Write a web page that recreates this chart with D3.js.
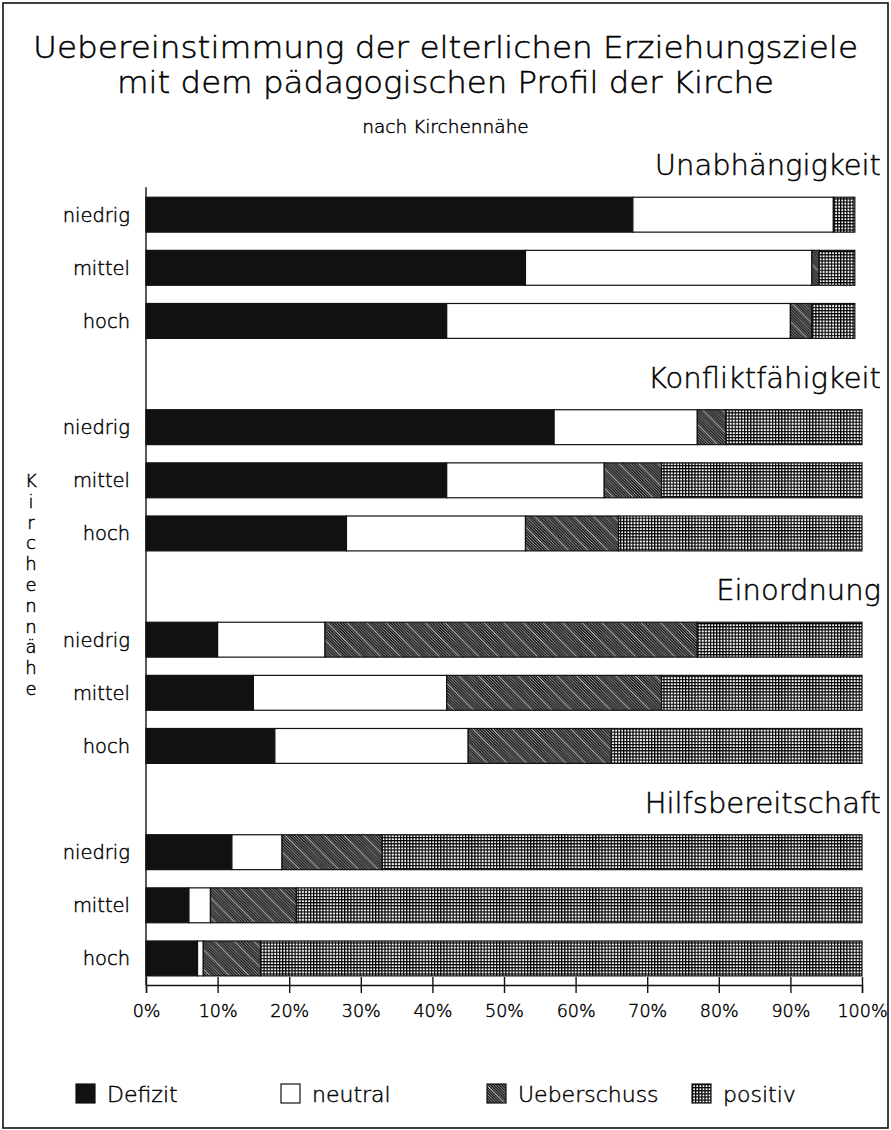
<!DOCTYPE html>
<html lang="de">
	<head>
		<meta charset="utf-8">
		<title>Uebereinstimmung der elterlichen Erziehungsziele</title>
		<script type="text/javascript" src="https://cdn.jsdelivr.net/npm/d3@7"></script>
		<style type="text/css">
			body { margin: 0; background: #fff; }
			text { font-family: "DejaVu Sans", sans-serif; font-weight: 200; fill: #000; stroke: #000; stroke-width: 0.45; }
		</style>
	</head>
	<body>
		<script type="text/javascript">

			//Data (percent per bar, order: niedrig, mittel, hoch per group)
			const groups = ["Unabhängigkeit", "Konfliktfähigkeit", "Einordnung", "Hilfsbereitschaft"];
			const levels = ["niedrig", "mittel", "hoch"];
			const categories = ["Defizit", "neutral", "Ueberschuss", "positiv"];
			const defizit     = [68, 53, 42,  57, 42, 28,  10, 15, 18,  12,  6, 7.2];
			const neutral     = [28, 40, 48,  20, 22, 25,  15, 27, 27,   7,  3, 0.8];
			const ueberschuss = [ 0,  1,  3,   4,  8, 13,  52, 30, 20,  14, 12,   8];
			const positiv     = [ 3,  5,  6,  19, 28, 34,  23, 28, 35,  67, 79,  84];
			const xTicks = [0, 10, 20, 30, 40, 50, 60, 70, 80, 90, 100];

			//Width and height
			let w = 891;
			let h = 1130;
			let plotLeft = 146, plotRight = 862, plotTop = 135, plotBottom = 985;

			//Build a table from the arrays
			let rows = [];
			groups.forEach((g, gi) => {
				levels.forEach((l, li) => {
					let i = gi * 3 + li;
					rows.push({
						key: g + "|" + l, group: g, level: l,
						Defizit: defizit[i], neutral: neutral[i],
						Ueberschuss: ueberschuss[i], positiv: positiv[i]
					});
				});
			});

			//One band row for each group title plus its three bars
			let rowKeys = [];
			groups.forEach(g => {
				rowKeys.push(g + "|title");
				levels.forEach(l => rowKeys.push(g + "|" + l));
			});

			let x = d3.scaleLinear().domain([0, 100]).range([plotLeft, plotRight]);
			let y = d3.scaleBand().domain(rowKeys).range([plotTop, plotBottom])
						.paddingInner(0.343).paddingOuter(0.1715);

			let stack = d3.stack().keys(categories);
			let series = stack(rows);

			//Create SVG element
			let svg = d3.select("body")
						.append("svg")
						  .attr("width", w)
						  .attr("height", h);

			//Fill patterns
			let defs = svg.append("defs");

			//Ueberschuss: dense "\" hatch with an occasional white streak
			let d = 2.8, tile = d * 7;
			let diag = c => `M-1,${-1 + c} L${tile + 1},${tile + 1 + c}`;
			let blackLines = d3.range(-tile, tile + d / 2, d).map(diag).join(" ");
			let whiteLines = [-tile, 0, tile].map(c => diag(c + d / 2)).join(" ");
			let hatch = defs.append("pattern")
				.attr("id", "hatch")
				.attr("patternUnits", "userSpaceOnUse")
				.attr("width", tile).attr("height", tile);
			hatch.append("rect").attr("width", tile).attr("height", tile).attr("fill", "#fff");
			hatch.append("path")
				.attr("d", blackLines)
				.attr("stroke", "#000").attr("stroke-width", 1.45);
			hatch.append("path")
				.attr("d", whiteLines)
				.attr("stroke", "#fff").attr("stroke-width", 0.9);

			//positiv: fine square grid
			let grid = defs.append("pattern")
				.attr("id", "grid")
				.attr("patternUnits", "userSpaceOnUse")
				.attr("width", 3.1).attr("height", 3.1);
			grid.append("rect").attr("width", 3.1).attr("height", 3.1).attr("fill", "#fff");
			grid.append("path")
				.attr("d", "M0,0.6 L3.1,0.6 M0.6,0 L0.6,3.1")
				.attr("stroke", "#000").attr("stroke-width", 1.2);

			let fills = {
				Defizit: "#111",
				neutral: "#fff",
				Ueberschuss: "url(#hatch)",
				positiv: "url(#grid)"
			};

			//Outer frame
			svg.append("rect")
				.attr("x", 3).attr("y", 3)
				.attr("width", w - 6).attr("height", h - 5)
				.attr("fill", "none")
				.attr("stroke", "#111")
				.attr("stroke-width", 1.6);

			//Titles
			svg.append("text")
				.attr("x", w / 2).attr("y", 58)
				.attr("text-anchor", "middle")
				.attr("font-size", 30)
				.attr("textLength", 825).attr("lengthAdjust", "spacingAndGlyphs")
				.text("Uebereinstimmung der elterlichen Erziehungsziele");
			svg.append("text")
				.attr("x", w / 2).attr("y", 93)
				.attr("text-anchor", "middle")
				.attr("font-size", 30)
				.attr("textLength", 657).attr("lengthAdjust", "spacingAndGlyphs")
				.text("mit dem pädagogischen Profil der Kirche");
			svg.append("text")
				.attr("x", w / 2).attr("y", 133)
				.attr("text-anchor", "middle")
				.attr("font-size", 18.5)
				.text("nach Kirchennähe");

			//Group titles, right aligned
			svg.selectAll(".grouptitle")
				.data(groups)
				.enter()
			  .append("text")
				.attr("class", "grouptitle")
				.attr("x", plotRight + 19)
				.attr("y", d => y(d + "|title") + y.bandwidth() - 4)
				.attr("text-anchor", "end")
				.attr("font-size", 29)
				.text(d => d);

			//Bars
			svg.selectAll(".series")
				.data(series)
				.enter()
			  .append("g")
				.attr("class", "series")
				.attr("fill", d => fills[d.key])
			  .selectAll("rect")
				.data(d => d.filter(s => s[1] - s[0] > 0))
				.enter()
			  .append("rect")
				.attr("x", d => x(d[0]))
				.attr("y", d => y(d.data.key))
				.attr("width", d => x(d[1]) - x(d[0]))
				.attr("height", y.bandwidth())
				.attr("stroke", "#111")
				.attr("stroke-width", 1.2);

			//Level labels
			svg.selectAll(".level")
				.data(rows)
				.enter()
			  .append("text")
				.attr("class", "level")
				.attr("x", plotLeft - 16)
				.attr("y", d => y(d.key) + y.bandwidth() / 2 + 7)
				.attr("text-anchor", "end")
				.attr("font-size", 19.5)
				.text(d => d.level);

			//Vertical axis line
			svg.append("line")
				.attr("x1", plotLeft).attr("x2", plotLeft)
				.attr("y1", y(groups[0] + "|" + levels[0]) - 10)
				.attr("y2", plotBottom)
				.attr("stroke", "#111")
				.attr("stroke-width", 1.4);

			//Horizontal axis
			let xAxis = d3.axisBottom(x)
				.tickValues(xTicks)
				.tickSize(8)
				.tickFormat(d => d + "%");
			let ax = svg.append("g")
				.attr("transform", `translate(0,${plotBottom})`)
				.call(xAxis);
			ax.attr("font-family", null).attr("font-size", null);
			ax.select(".domain").attr("stroke", "#111").attr("stroke-width", 1.4);
			ax.selectAll(".tick line")
				.attr("y1", -8)
				.attr("stroke", "#111").attr("stroke-width", 1.4);
			ax.selectAll(".tick text")
				.attr("y", 32).attr("dy", null)
				.attr("font-size", 17.5)
				.attr("fill", "#000");

			//Axis title, one letter per line
			let yTitle = "Kirchennähe".split("");
			svg.selectAll(".ytitle")
				.data(yTitle)
				.enter()
			  .append("text")
				.attr("class", "ytitle")
				.attr("x", 31)
				.attr("y", (d, i) => 487 + i * 20.8)
				.attr("text-anchor", "middle")
				.attr("font-size", 18)
				.text(d => d);

			//Legend
			let legendX = [76, 281, 487, 692];
			let legend = svg.selectAll(".legend")
				.data(categories)
				.enter()
			  .append("g")
				.attr("class", "legend")
				.attr("transform", (d, i) => `translate(${legendX[i]},1084)`);
			legend.append("rect")
				.attr("width", 19).attr("height", 19)
				.attr("fill", d => fills[d])
				.attr("stroke", "#111")
				.attr("stroke-width", 1.2);
			legend.append("text")
				.attr("x", 31).attr("y", 18)
				.attr("font-size", 22)
				.text(d => d);

		</script>
	</body>
</html>
